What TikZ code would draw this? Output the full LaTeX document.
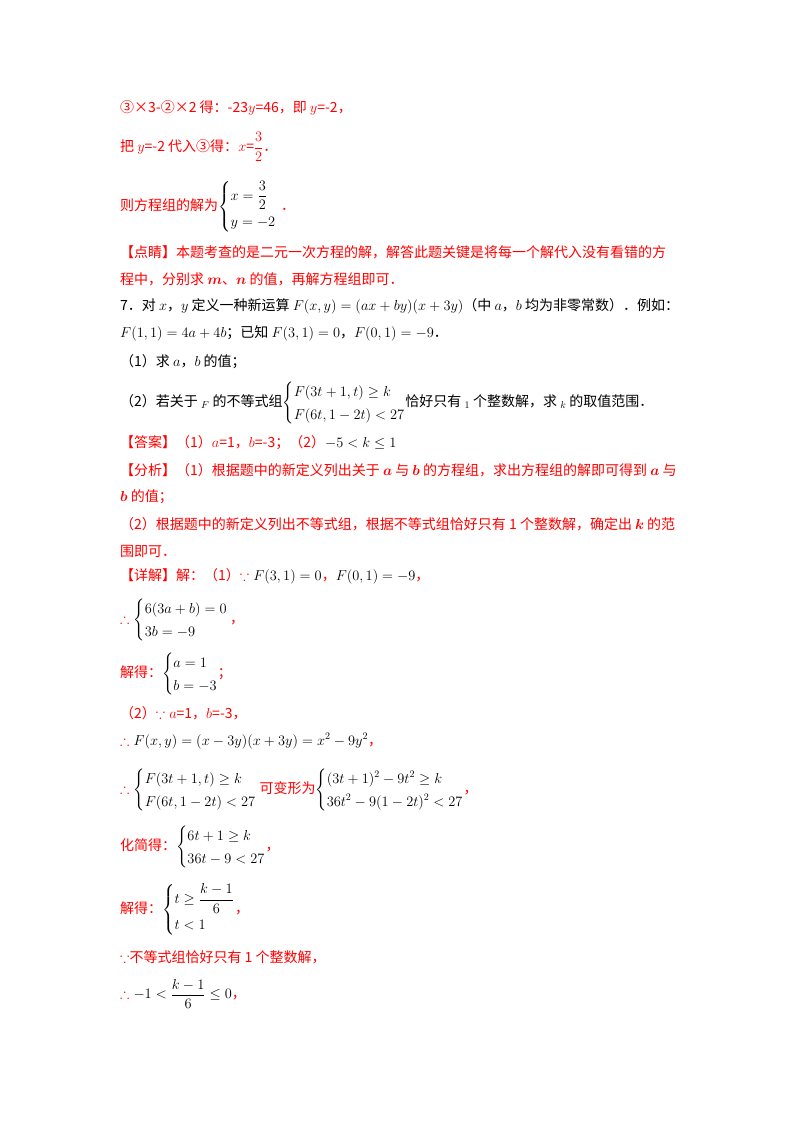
\documentclass[tikz,border=0pt]{standalone}
\usepackage{amsmath,amssymb}
\usepackage{fontspec}
\setmainfont{Noto Sans CJK SC}
\definecolor{rd}{RGB}{255,0,0}
\tikzset{ln/.style={anchor=west,inner sep=0pt,font=\fontsize{14}{17}\selectfont}}
\newcommand{\blk}[1]{\textcolor{black}{#1}}
\newcommand{\sys}[1]{{\renewcommand{\arraystretch}{1.35}\left\{\begin{array}{@{}l@{}}#1\end{array}\right.}}
\begin{document}
\begin{tikzpicture}[x=1pt,y=-1pt]
\useasboundingbox (0,0) rectangle (800,1132);
\node[ln,rd] (l1) at (120,108) {③×3-②×2 得：-23$y$=46，即 $y$=-2，};
\node[ln,rd] (l2) at (120,147) {把 $y$=-2 代入③得：$x$=$\dfrac{3}{2}$．};
\node[ln,rd] (l3) at (120,207) {则方程组的解为$\blk{\sys{x=\dfrac{3}{2}\\ y=-2}}$\,\,．};
\node[ln,rd] (l4) at (120,252) {【点睛】本题考查的是二元一次方程的解，解答此题关键是将每一个解代入没有看错的方};
\node[ln,rd] (l5) at (120,279) {程中，分别求 $\boldsymbol{m}$、$\boldsymbol{n}$ 的值，再解方程组即可．};
\node[ln] (q1) at (120,306) {7．对 $x$，$y$ 定义一种新运算 $F(x,y)=(ax+by)(x+3y)$（中 $a$，$b$ 均为非零常数）．例如：};
\node[ln] (q2) at (120,333) {$F(1,1)=4a+4b$；已知 $F(3,1)=0$，$F(0,1)=-9$．};
\node[ln] (q3) at (120,362) {（1）求 $a$，$b$ 的值；};
\node[ln] (q4) at (120,403) {（2）若关于 $_F$ 的不等式组$\sys{F(3t+1,t)\ge k\\ F(6t,1-2t)<27}$恰好只有 $_1$ 个整数解，求 $_k$ 的取值范围．};
\node[ln,rd] (a1) at (120,443) {【答案】（1）$a$=1，$b$=-3；（2）$\blk{-5<k\le 1}$};
\node[ln,rd] (a2) at (120,470) {【分析】（1）根据题中的新定义列出关于 $\boldsymbol{a}$ 与 $\boldsymbol{b}$ 的方程组，求出方程组的解即可得到 $\boldsymbol{a}$ 与};
\node[ln,rd] (a3) at (120,497) {$\boldsymbol{b}$ 的值；};
\node[ln,rd] (a4) at (120,524) {（2）根据题中的新定义列出不等式组，根据不等式组恰好只有 1 个整数解，确定出 $\boldsymbol{k}$ 的范};
\node[ln,rd] (a5) at (120,551) {围即可．};
\node[ln,rd] (d1) at (120,576) {【详解】解：（1）$\because\blk{F(3,1)=0}$，$\blk{F(0,1)=-9}$，};
\node[ln,rd] (d2) at (120,620) {$\therefore\blk{\sys{6(3a+b)=0\\ 3b=-9}}$\,，};
\node[ln,rd] (d3) at (120,674) {解得：$\blk{\sys{a=1\\ b=-3}}$；};
\node[ln,rd] (d4) at (120,713) {（2）$\because a$=1，$b$=-3，};
\node[ln,rd] (d5) at (120,741) {$\therefore\blk{F(x,y)=(x-3y)(x+3y)=x^2-9y^2}$，};
\node[ln,rd] (d6) at (120,790) {$\therefore\blk{\sys{F(3t+1,t)\ge k\\ F(6t,1-2t)<27}}$ 可变形为$\blk{\sys{(3t+1)^2-9t^2\ge k\\ 36t^2-9(1-2t)^2<27}}$，};
\node[ln,rd] (d7) at (120,847) {化简得：$\blk{\sys{6t+1\ge k\\ 36t-9<27}}$，};
\node[ln,rd] (d8) at (120,910) {解得：$\blk{\sys{t\ge\dfrac{k-1}{6}\\ t<1}}$，};
\node[ln,rd] (d9) at (120,957) {$\because$不等式组恰好只有 1 个整数解，};
\node[ln,rd] (d10) at (120,994) {$\therefore\blk{-1<\dfrac{k-1}{6}\le 0}$，};
\end{tikzpicture}
\end{document}
